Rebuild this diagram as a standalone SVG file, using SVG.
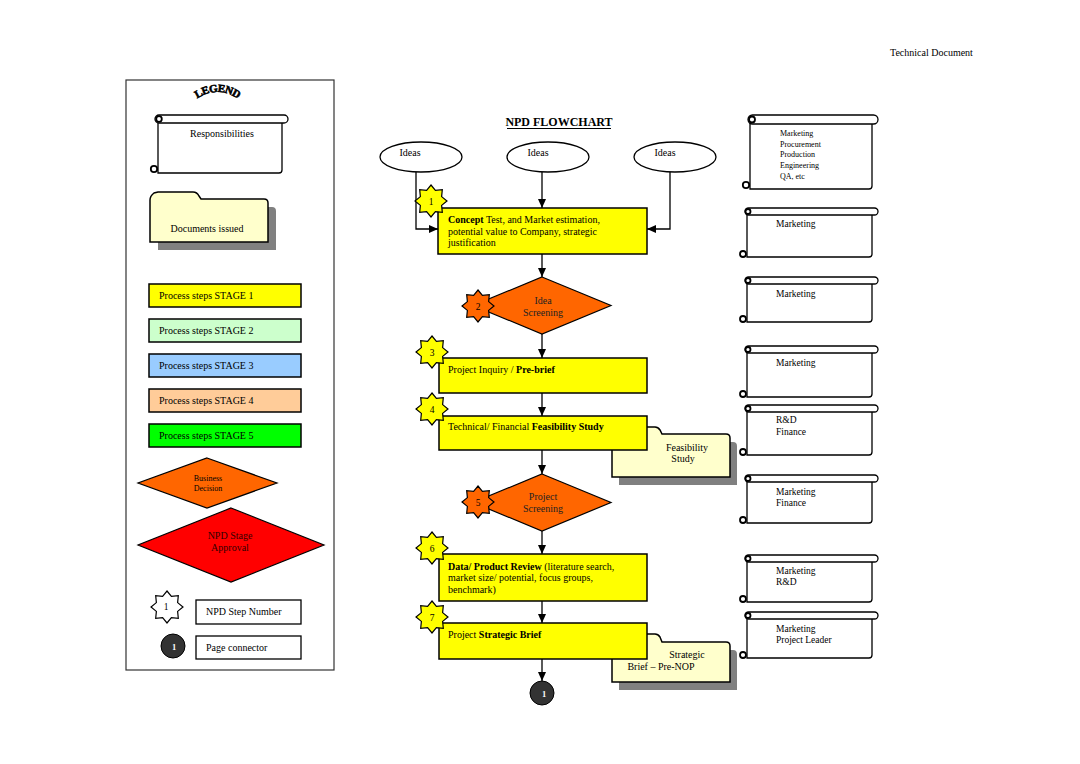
<svg xmlns="http://www.w3.org/2000/svg" width="1080" height="764" viewBox="0 0 1080 764">
<style>
text{font-family:"Liberation Serif","Times New Roman",serif;fill:#000}
.t10{font-size:10px}
.t9{font-size:9.5px}
.t8{font-size:8px}
.b{font-weight:bold}
.ln{fill:none;stroke:#000;stroke-width:1.3}
.box{stroke:#000;stroke-width:1.5}
.s1{fill:#FFFF00}.s2{fill:#CCFFCC}.s3{fill:#99CCFF}.s4{fill:#FFCC99}.s5{fill:#00FF00}
.dec{fill:#FF6600;stroke:#000;stroke-width:1.2}
.wht{fill:#fff;stroke:#000;stroke-width:1.3}
.curl{fill:#fff;stroke:#000;stroke-width:1.8}
.fold{fill:#FFFFCC;stroke:#000;stroke-width:1.5}
.shd{fill:#808080}
.mid{text-anchor:middle}
</style>
<defs>
<marker id="ah" markerUnits="userSpaceOnUse" markerWidth="9" markerHeight="8" viewBox="0 0 9 8" refX="9" refY="4" orient="auto">
<path d="M0,0 L9,4 L0,8 Z" fill="#000"/>
</marker>
<polygon id="star" points="0,-16 4.4,-10.62 11.31,-11.31 10.62,-4.4 16,0 10.62,4.4 11.31,11.31 4.4,10.62 0,16 -4.4,10.62 -11.31,11.31 -10.62,4.4 -16,0 -10.62,-4.4 -11.31,-11.31 -4.4,-10.62" stroke="#000" stroke-width="1.2"/>
<path id="legarc" d="M190,104 Q217,80 245,104"/>
</defs>
<rect width="1080" height="764" fill="#fff"/>
<text x="890" y="56" class="t10">Technical Document</text>

<g id="legend">
<rect x="126" y="80" width="208" height="590" fill="#fff" stroke="#333" stroke-width="1.2"/>
<text class="b" style="font-size:11px;letter-spacing:-0.5px" stroke="#000" stroke-width="0.6"><textPath href="#legarc" startOffset="50%" text-anchor="middle">LEGEND</textPath></text>
<g id="leg-resp">
<path class="wht" d="M158,119 V173 H279 Q282,173 282,170 V119 Z"/>
<rect class="wht" x="155" y="115" width="133" height="8" rx="4"/>
<circle class="curl" cx="159" cy="119" r="2.8"/>
<circle class="curl" cx="154" cy="169" r="3.2"/>
<text x="222" y="136.5" class="t10 mid">Responsibilities</text>
</g>
<g id="leg-docs">
<path class="shd" transform="translate(8,8)" d="M150,242 V200 Q150,196 154,193 L158,192 H193 Q197,192 199,196 L201,199 H264 Q268,199 268,203 V242 Z"/>
<path class="fold" d="M150,242 V200 Q150,196 154,193 L158,192 H193 Q197,192 199,196 L201,199 H264 Q268,199 268,203 V242 Z"/>
<text x="207" y="232" class="t10 mid">Documents issued</text>
</g>
<g id="leg-stage1"><rect class="box s1" x="149" y="284" width="152" height="23"/><text x="159" y="299" class="t10">Process steps STAGE 1</text></g>
<g id="leg-stage2"><rect class="box s2" x="149" y="319" width="152" height="23"/><text x="159" y="334" class="t10">Process steps STAGE 2</text></g>
<g id="leg-stage3"><rect class="box s3" x="149" y="354" width="152" height="23"/><text x="159" y="369" class="t10">Process steps STAGE 3</text></g>
<g id="leg-stage4"><rect class="box s4" x="149" y="389" width="152" height="23"/><text x="159" y="404" class="t10">Process steps STAGE 4</text></g>
<g id="leg-stage5"><rect class="box s5" x="149" y="424" width="152" height="23"/><text x="159" y="439" class="t10">Process steps STAGE 5</text></g>
<g id="leg-decision">
<polygon class="dec" points="207,458 277,483 207,508 138,483"/>
<text x="208" y="480.5" class="t8 mid">Business</text>
<text x="208" y="491" class="t8 mid">Decision</text>
</g>
<g id="leg-approval">
<polygon points="231,508 324,545 231,582 138,545" fill="#FF0000" stroke="#000" stroke-width="1.2"/>
<text x="230" y="539" class="t10 mid" style="fill:#300">NPD Stage</text>
<text x="230" y="550.5" class="t10 mid" style="fill:#300">Approval</text>
</g>
<g id="leg-step">
<use href="#star" x="167" y="607" fill="#fff"/>
<text x="166" y="610" class="t9 mid">1</text>
<rect class="wht" x="196" y="600" width="105" height="24"/>
<text x="206" y="615" class="t10">NPD Step Number</text>
</g>
<g id="leg-conn">
<circle cx="173" cy="646" r="12" fill="#333" stroke="#000" stroke-width="1"/>
<text x="174" y="649.5" class="b mid" style="font-size:8.5px;fill:#fff">1</text>
<rect class="wht" x="196" y="636" width="105" height="23"/>
<text x="206" y="651" class="t10">Page connector</text>
</g>
</g>

<text x="559" y="126" class="b mid" style="font-size:12px">NPD FLOWCHART</text>
<line x1="507" y1="128.5" x2="611" y2="128.5" stroke="#000" stroke-width="1"/>

<g id="connectors">
<path class="ln" d="M416,172 V229 H438" marker-end="url(#ah)"/>
<path class="ln" d="M542,172 V208" marker-end="url(#ah)"/>
<path class="ln" d="M670,172 V229 H647" marker-end="url(#ah)"/>
<path class="ln" d="M542,254 V277" marker-end="url(#ah)"/>
<path class="ln" d="M542,334 V358" marker-end="url(#ah)"/>
<path class="ln" d="M542,393 V416" marker-end="url(#ah)"/>
<path class="ln" d="M542,450 V474" marker-end="url(#ah)"/>
<path class="ln" d="M542,531 V554" marker-end="url(#ah)"/>
<path class="ln" d="M542,601 V623" marker-end="url(#ah)"/>
<path class="ln" d="M542,659 V681" marker-end="url(#ah)"/>
</g>

<g id="ideas1"><ellipse class="wht" cx="421" cy="157" rx="41" ry="15"/><text x="410" y="156" class="t10 mid">Ideas</text></g>
<g id="ideas2"><ellipse class="wht" cx="548" cy="157" rx="41" ry="15"/><text x="538" y="156" class="t10 mid">Ideas</text></g>
<g id="ideas3"><ellipse class="wht" cx="675" cy="157" rx="41" ry="15"/><text x="665" y="156" class="t10 mid">Ideas</text></g>

<g id="step1">
<rect class="box s1" x="438" y="208" width="209" height="46"/>
<text x="448" y="223" class="t10"><tspan class="b">Concept</tspan> Test, and Market estimation,</text>
<text x="448" y="234.5" class="t10">potential value to Company, strategic</text>
<text x="448" y="246" class="t10">justification</text>
<use href="#star" x="431" y="201" fill="#FFFF00"/>
<text x="431" y="204.5" class="t9 mid">1</text>
</g>
<g id="step2">
<polygon class="dec" points="542,277 611,305.5 542,334 473,305.5"/>
<text x="543" y="303.5" class="t10 mid" style="fill:#222">Idea</text>
<text x="543" y="315.5" class="t10 mid" style="fill:#222">Screening</text>
<use href="#star" x="478" y="306" fill="#FF6600"/>
<text x="478" y="309.5" class="t9 mid">2</text>
</g>
<g id="step3">
<rect class="box s1" x="439" y="358" width="208" height="35"/>
<text x="448" y="373" class="t10">Project Inquiry / <tspan class="b">Pre-brief</tspan></text>
<use href="#star" x="432" y="352" fill="#FFFF00"/>
<text x="432" y="355.5" class="t9 mid">3</text>
</g>
<g id="doc-feasibility">
<path class="shd" transform="translate(7,8)" d="M612,477 V434 Q612,427 619,427 H655 Q658,427 660,430 L662,434 H726 Q730,434 730,438 V477 Z"/>
<path class="fold" d="M612,477 V434 Q612,427 619,427 H655 Q658,427 660,430 L662,434 H726 Q730,434 730,438 V477 Z"/>
<text x="687" y="450.5" class="t10 mid">Feasibility</text>
<text x="683" y="461.5" class="t10 mid">Study</text>
</g>
<g id="step4">
<rect class="box s1" x="439" y="416" width="208" height="34"/>
<text x="448" y="430" class="t10">Technical/ Financial <tspan class="b">Feasibility Study</tspan></text>
<use href="#star" x="432" y="409" fill="#FFFF00"/>
<text x="432" y="412.5" class="t9 mid">4</text>
</g>
<g id="step5">
<polygon class="dec" points="542,474 611,502.5 542,531 473,502.5"/>
<text x="543" y="500" class="t10 mid" style="fill:#222">Project</text>
<text x="543" y="511.5" class="t10 mid" style="fill:#222">Screening</text>
<use href="#star" x="478" y="502" fill="#FF6600"/>
<text x="478" y="505.5" class="t9 mid">5</text>
</g>
<g id="step6">
<rect class="box s1" x="439" y="554" width="208" height="47"/>
<text x="448" y="569.5" class="t10"><tspan class="b">Data/ Product Review</tspan> (literature search,</text>
<text x="448" y="581" class="t10">market size/ potential, focus groups,</text>
<text x="448" y="592.5" class="t10">benchmark)</text>
<use href="#star" x="432" y="548" fill="#FFFF00"/>
<text x="432" y="551.5" class="t9 mid">6</text>
</g>
<g id="doc-strategic">
<path class="shd" transform="translate(7,8)" d="M612,682 V641 Q612,634 619,634 H655 Q658,634 660,637 L662,642 H726 Q730,642 730,646 V682 Z"/>
<path class="fold" d="M612,682 V641 Q612,634 619,634 H655 Q658,634 660,637 L662,642 H726 Q730,642 730,646 V682 Z"/>
<text x="687" y="657.5" class="t10 mid">Strategic</text>
<text x="661" y="669.5" class="t10 mid">Brief – Pre-NOP</text>
</g>
<g id="step7">
<rect class="box s1" x="439" y="623" width="208" height="36"/>
<text x="448" y="638" class="t10">Project <tspan class="b">Strategic Brief</tspan></text>
<use href="#star" x="432" y="617" fill="#FFFF00"/>
<text x="432" y="620.5" class="t9 mid">7</text>
</g>
<g id="page-connector">
<circle cx="542" cy="693" r="12" fill="#333" stroke="#000" stroke-width="1"/>
<text x="544" y="696.5" class="b mid" style="font-size:8.5px;fill:#fff">1</text>
</g>

<g id="resp-1">
<path class="wht" d="M750,119 V189 H869 Q872,189 872,186 V119 Z"/>
<rect class="wht" x="748" y="115" width="130" height="9" rx="4.5"/>
<circle class="curl" cx="752" cy="119.5" r="3"/>
<circle class="curl" cx="746" cy="185" r="3.2"/>
<text x="780" y="136" class="t8">Marketing</text>
<text x="780" y="147" class="t8">Procurement</text>
<text x="780" y="157" class="t8">Production</text>
<text x="780" y="168" class="t8">Engineering</text>
<text x="780" y="178.5" class="t8">QA, etc</text>
</g>
<g id="resp-2">
<path class="wht" d="M747,212 V257 H869 Q872,257 872,254 V212 Z"/>
<rect class="wht" x="745" y="208" width="133" height="7" rx="3.5"/>
<circle class="curl" cx="748" cy="211.5" r="2.5"/>
<circle class="curl" cx="743" cy="254" r="3"/>
<text x="776" y="227" class="t9">Marketing</text>
</g>
<g id="resp-3">
<path class="wht" d="M747,281 V322 H869 Q872,322 872,319 V281 Z"/>
<rect class="wht" x="745" y="277" width="133" height="7" rx="3.5"/>
<circle class="curl" cx="748" cy="280.5" r="2.5"/>
<circle class="curl" cx="743" cy="319" r="3"/>
<text x="776" y="296.5" class="t9">Marketing</text>
</g>
<g id="resp-4">
<path class="wht" d="M747,350 V397 H869 Q872,397 872,394 V350 Z"/>
<rect class="wht" x="745" y="346" width="133" height="7" rx="3.5"/>
<circle class="curl" cx="748" cy="349.5" r="2.5"/>
<circle class="curl" cx="743" cy="394" r="3"/>
<text x="776" y="365.5" class="t9">Marketing</text>
</g>
<g id="resp-5">
<path class="wht" d="M747,409 V455 H869 Q872,455 872,452 V409 Z"/>
<rect class="wht" x="745" y="405" width="133" height="7" rx="3.5"/>
<circle class="curl" cx="748" cy="408.5" r="2.5"/>
<circle class="curl" cx="743" cy="452" r="3"/>
<text x="776" y="422.5" class="t9">R&amp;D</text>
<text x="776" y="434.5" class="t9">Finance</text>
</g>
<g id="resp-6">
<path class="wht" d="M747,479 V523 H869 Q872,523 872,520 V479 Z"/>
<rect class="wht" x="745" y="475" width="133" height="7" rx="3.5"/>
<circle class="curl" cx="748" cy="478.5" r="2.5"/>
<circle class="curl" cx="743" cy="520" r="3"/>
<text x="776" y="494.5" class="t9">Marketing</text>
<text x="776" y="505.5" class="t9">Finance</text>
</g>
<g id="resp-7">
<path class="wht" d="M747,559 V602 H869 Q872,602 872,599 V559 Z"/>
<rect class="wht" x="745" y="555" width="133" height="7" rx="3.5"/>
<circle class="curl" cx="748" cy="558.5" r="2.5"/>
<circle class="curl" cx="743" cy="599" r="3"/>
<text x="776" y="573.5" class="t9">Marketing</text>
<text x="776" y="585" class="t9">R&amp;D</text>
</g>
<g id="resp-8">
<path class="wht" d="M747,616 V658 H869 Q872,658 872,655 V616 Z"/>
<rect class="wht" x="745" y="612" width="133" height="7" rx="3.5"/>
<circle class="curl" cx="748" cy="615.5" r="2.5"/>
<circle class="curl" cx="743" cy="655" r="3"/>
<text x="776" y="631.5" class="t9">Marketing</text>
<text x="776" y="643" class="t9">Project Leader</text>
</g>
</svg>
